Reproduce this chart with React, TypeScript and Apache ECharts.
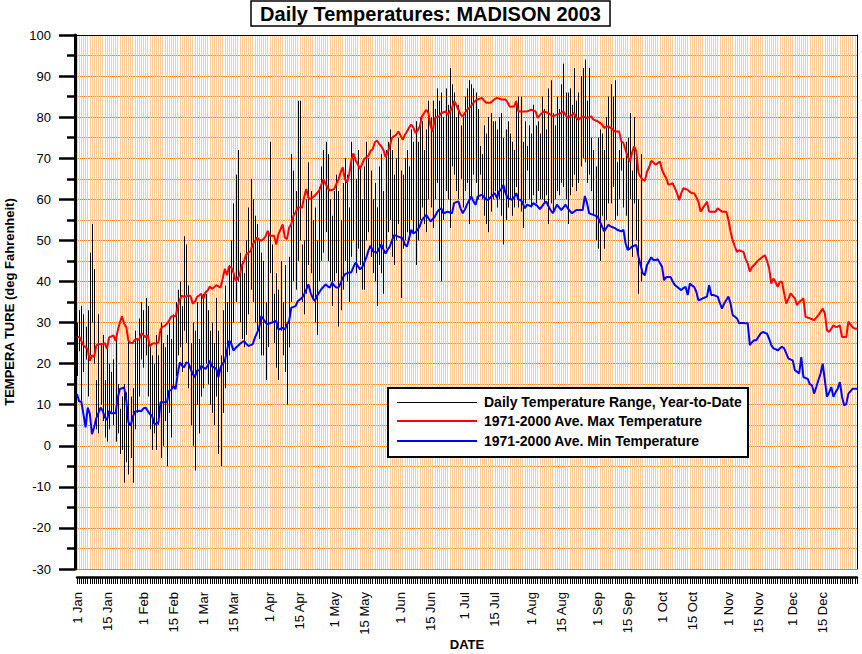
import React, { useEffect, useRef } from 'react';
import * as echarts from 'echarts';

const MONTHS = ['Jan', 'Feb', 'Mar', 'Apr', 'May', 'Jun', 'Jul', 'Aug', 'Sep', 'Oct', 'Nov', 'Dec'];
const MONTH_DAYS = [31, 28, 31, 30, 31, 30, 31, 31, 30, 31, 30, 31];
const LABEL_DAYS = [1, 15];
const DATES: string[] = MONTHS.flatMap((m, i) =>
  Array.from({ length: MONTH_DAYS[i] }, (_, k) => `${k + 1} ${m}`)
);

const TITLE = 'Daily Temperatures: MADISON 2003';
const Y_NAME = 'TEMPERA TURE (deg Fahrenheit)';
const X_NAME = 'DATE';
const LEGEND_NAMES = [
  'Daily Temperature Range, Year-to-Date',
  '1971-2000 Ave. Max Temperature',
  '1971-2000 Ave. Min Temperature',
];

// Daily observed highs / lows, 1 Jan .. 21 Sep 2003 (deg F)
const DAILY_HIGH = [
  // Jan
  30, 33, 34, 32, 29, 33, 47, 54, 43, 16, 32, 25, 27, 16, 25, 20, 18, 21, 26, 15, 9, 12, 15, 13, 26, 12, 14, 28, 26, 31, 35,
  // Feb
  33, 36, 34, 24, 22, 20, 27, 22, 30, 25, 24, 27, 30, 26, 32, 35, 38, 40, 34, 51, 49, 39, 25, 30, 28, 35, 26, 37,
  // Mar
  37, 37, 33, 28, 30, 25, 36, 28, 22, 33, 39, 35, 44, 50, 59, 66, 72, 47, 45, 42, 50, 58, 65, 60, 56, 54, 50, 47, 45, 35, 52,
  // Apr
  74, 49, 37, 42, 38, 45, 35, 44, 30, 46, 71, 67, 62, 84, 84, 49, 50, 60, 69, 62, 55, 58, 50, 63, 68, 72, 74, 71, 60, 56,
  // May
  62, 66, 62, 55, 64, 70, 66, 58, 74, 70, 65, 72, 68, 60, 68, 74, 70, 67, 60, 64, 58, 68, 71, 62, 72, 74, 77, 72, 66, 70, 75,
  // Jun
  67, 66, 70, 72, 68, 77, 74, 79, 74, 80, 79, 72, 77, 84, 80, 84, 82, 87, 84, 86, 80, 87, 83, 92, 88, 86, 80, 83, 78, 80,
  // Jul
  85, 87, 89, 88, 87, 86, 82, 73, 71, 78, 76, 80, 81, 79, 79, 77, 80, 81, 75, 77, 79, 76, 74, 72, 84, 85, 85, 74, 79, 73, 78,
  // Aug
  76, 83, 78, 79, 76, 85, 82, 77, 87, 89, 81, 78, 85, 82, 88, 93, 86, 86, 87, 83, 92, 84, 86, 90, 92, 94, 84, 92, 75, 72, 68,
  // Sep
  75, 77, 76, 72, 80, 85, 88, 85, 89, 69, 72, 74, 70, 74, 75, 81, 67, 80, 72, 60, 71,
];

const DAILY_LOW = [
  // Jan
  17, 23, 11, 18, 21, 12, 22, 30, 20, 4, 3, 10, 6, 2, 1, 4, 8, 5, 1, 3, -2, -1, -9, -4, -7, -3, -9, 4, 8, 12, 21,
  // Feb
  19, 22, 12, 4, -1, 3, -1, 5, -3, 0, 6, -5, 8, 2, 14, 17, 22, 24, 18, 28, 25, 14, 5, 0, -6, 10, 3, 12,
  // Mar
  14, 20, 15, 10, 8, 5, 12, -2, -5, 8, 14, 18, 22, 25, 30, 35, 40, 30, 26, 24, 27, 32, 38, 35, 30, 28, 26, 22, 22, 16, 24,
  // Apr
  42, 30, 25, 19, 16, 28, 22, 18, 10, 24, 35, 40, 38, 45, 50, 35, 32, 37, 44, 42, 36, 30, 27, 40, 45, 47, 52, 45, 40, 34,
  // May
  40, 42, 29, 33, 38, 45, 40, 35, 46, 50, 42, 48, 44, 38, 38, 50, 52, 46, 42, 40, 34, 44, 42, 37, 48, 52, 55, 46, 44, 50, 54,
  // Jun
  36, 48, 50, 52, 50, 55, 52, 44, 50, 55, 58, 54, 52, 60, 58, 53, 60, 64, 45, 40, 55, 62, 60, 53, 68, 66, 62, 60, 65, 58,
  // Jul
  62, 64, 54, 60, 66, 64, 60, 66, 60, 56, 54, 52, 57, 60, 62, 58, 60, 56, 49, 55, 58, 60, 56, 58, 63, 58, 57, 53, 59, 67, 60,
  // Aug
  58, 61, 59, 62, 60, 60, 59, 61, 54, 59, 57, 60, 62, 61, 64, 63, 60, 54, 61, 63, 66, 62, 64, 68, 70, 69, 64, 66, 62, 56, 50,
  // Sep
  48, 45, 56, 48, 55, 59, 59, 63, 55, 56, 60, 67, 58, 56, 48, 60, 46, 59, 50, 37, 40,
];

// 1971-2000 normal daily maximum (deg F), 1 Jan .. 31 Dec
const NORMAL_MAX = [
  26.3, 26.6, 25.5, 24.5, 24.0, 23.5, 20.7, 22.0, 21.6, 24.4,
  24.8, 24.7, 24.8, 25.0, 23.6, 26.4, 26.6, 26.9, 25.5, 28.0,
  30.0, 31.5, 29.7, 28.9, 25.6, 25.0, 25.0, 25.8, 26.0, 25.8,
  27.4, 26.9, 26.4, 26.9, 24.2, 24.8, 25.0, 24.8, 25.2, 28.4,
  29.0, 29.2, 29.7, 30.5, 31.5, 31.6, 31.5, 33.8, 35.6, 36.6,
  36.2, 36.4, 36.6, 36.4, 34.6, 35.0, 36.2, 36.6, 37.0, 35.8,
  37.4, 37.8, 38.8, 38.2, 38.6, 39.1, 38.8, 38.5, 40.7, 43.1,
  41.5, 43.7, 43.4, 42.2, 40.1, 40.8, 41.7, 44.0, 45.0, 46.6,
  47.0, 47.4, 49.0, 49.8, 50.7, 50.2, 49.9, 50.3, 51.0, 52.3,
  51.1, 51.1, 51.1, 49.0, 51.5, 52.7, 53.9, 50.7, 50.3, 53.1,
  53.9, 56.0, 56.8, 58.0, 58.0, 58.0, 60.5, 62.5, 60.4, 60.0,
  60.5, 60.9, 61.5, 62.1, 63.5, 64.9, 63.7, 62.8, 62.1, 62.3,
  62.5, 63.7, 64.8, 66.5, 67.8, 64.9, 64.1, 66.0, 69.4, 71.2,
  69.5, 68.6, 67.4, 68.5, 69.8, 70.2, 70.6, 71.8, 72.2, 73.9,
  74.3, 73.5, 72.9, 72.0, 70.3, 71.5, 73.0, 75.0, 75.4, 75.7,
  76.5, 75.5, 74.5, 75.7, 76.5, 77.5, 78.2, 77.4, 76.1, 76.8,
  77.8, 80.2, 81.0, 81.8, 81.0, 77.8, 76.5, 79.8, 80.0, 80.2,
  81.0, 81.2, 81.4, 80.6, 81.4, 82.2, 83.9, 83.0, 81.8, 80.6,
  80.2, 81.0, 81.8, 82.2, 82.8, 83.5, 84.0, 84.3, 84.5, 84.7,
  84.0, 83.5, 83.5, 83.5, 84.0, 84.4, 84.7, 84.5, 84.3, 84.3,
  84.3, 83.5, 82.5, 82.6, 82.6, 83.9, 81.4, 81.4, 81.4, 81.4,
  81.4, 81.6, 81.8, 81.6, 81.4, 79.8, 80.5, 81.0, 81.4, 81.2,
  81.0, 80.6, 80.2, 80.4, 80.6, 80.8, 81.0, 81.4, 80.5, 79.8,
  80.2, 80.6, 81.0, 79.8, 79.4, 79.8, 80.2, 80.0, 79.8, 80.0,
  80.2, 79.4, 79.2, 79.0, 78.6, 78.2, 77.4, 77.6, 77.8, 77.4,
  77.0, 76.5, 76.5, 76.5, 74.1, 73.7, 72.0, 70.4, 69.2, 71.3,
  72.9, 71.7, 66.5, 65.4, 64.8, 64.5, 66.7, 67.8, 69.4, 69.0,
  68.4, 68.8, 69.2, 67.2, 66.0, 65.1, 63.5, 63.7, 63.9, 62.7,
  61.5, 59.8, 61.5, 62.7, 62.5, 62.3, 61.8, 61.5, 61.5, 60.5,
  59.4, 57.0, 57.8, 58.6, 59.4, 57.0, 57.0, 57.0, 57.0, 57.8,
  57.4, 57.0, 57.0, 57.0, 55.0, 52.1, 50.0, 48.5, 47.2, 47.6,
  47.4, 47.2, 45.5, 44.4, 42.4, 43.5, 44.0, 44.6, 45.2, 45.6,
  46.0, 46.4, 45.0, 43.2, 39.5, 40.7, 39.8, 38.7, 39.9, 39.9,
  37.1, 34.6, 35.8, 37.1, 36.5, 35.9, 34.2, 35.0, 35.4, 35.9,
  31.4, 31.2, 31.0, 30.8, 30.6, 31.2, 31.8, 32.6, 33.4, 32.2,
  28.1, 27.7, 28.5, 29.3, 28.9, 29.0, 29.3, 26.5, 26.5, 26.5,
  30.2, 29.5, 28.8, 28.5, 28.5,
];

// 1971-2000 normal daily minimum (deg F), 1 Jan .. 31 Dec
const NORMAL_MIN = [
  12.6, 10.8, 10.8, 7.7, 4.5, 9.3, 7.7, 2.8, 4.5, 6.7,
  8.0, 9.3, 8.5, 6.9, 6.3, 8.5, 7.9, 7.9, 7.9, 11.6,
  13.8, 14.0, 14.2, 11.0, 5.7, 4.9, 6.9, 8.3, 8.4, 8.5,
  8.4, 9.1, 9.3, 8.5, 7.7, 7.3, 5.4, 5.3, 5.7, 10.6,
  10.6, 10.6, 10.6, 13.4, 13.6, 14.6, 13.8, 17.5, 20.3, 19.5,
  19.1, 20.3, 20.1, 18.7, 17.5, 16.7, 18.3, 18.3, 19.5, 19.0,
  18.7, 19.5, 20.7, 19.3, 19.0, 18.7, 16.7, 19.1, 20.0, 20.7,
  23.2, 25.6, 24.8, 23.2, 23.8, 24.3, 24.8, 25.2, 25.5, 24.8,
  24.3, 24.5, 24.7, 26.3, 27.5, 28.7, 31.6, 30.8, 30.0, 29.6,
  29.8, 30.0, 30.2, 30.4, 28.3, 28.5, 28.7, 28.3, 29.5, 30.4,
  33.6, 33.8, 34.0, 35.2, 35.6, 36.0, 36.9, 38.0, 39.3, 37.3,
  36.0, 35.2, 36.5, 37.3, 38.1, 38.7, 39.3, 38.8, 38.5, 39.7,
  39.0, 38.5, 38.5, 39.5, 40.9, 41.7, 42.0, 42.2, 42.2, 43.5,
  44.6, 43.8, 43.0, 43.4, 44.5, 45.8, 47.5, 48.7, 47.4, 47.2,
  47.0, 48.0, 49.0, 47.8, 46.8, 47.8, 48.5, 50.0, 51.3, 51.1,
  50.9, 50.7, 50.5, 49.0, 48.5, 50.5, 52.6, 51.7, 52.0, 52.6,
  53.5, 55.0, 55.6, 56.2, 55.4, 54.6, 55.2, 55.8, 56.8, 57.5,
  57.8, 56.6, 56.8, 57.0, 56.8, 56.6, 59.1, 59.3, 59.5, 57.8,
  56.6, 57.5, 58.7, 59.7, 60.7, 59.5, 58.7, 60.7, 60.9, 61.1,
  60.5, 59.9, 59.9, 60.5, 61.0, 61.5, 60.3, 61.9, 62.5, 63.5,
  61.5, 60.3, 60.1, 59.9, 60.5, 61.5, 59.9, 59.9, 59.1, 57.8,
  58.7, 58.5, 58.3, 59.1, 58.7, 58.3, 57.6, 58.3, 59.0, 59.5,
  58.3, 57.4, 56.6, 57.6, 58.7, 58.0, 57.4, 58.0, 58.7, 57.8,
  57.2, 56.6, 57.0, 57.4, 57.4, 57.4, 57.4, 60.8, 59.1, 56.6,
  56.4, 56.2, 56.0, 55.8, 54.6, 53.4, 52.2, 53.0, 53.8, 53.4,
  53.2, 53.0, 52.6, 52.4, 52.2, 52.6, 49.3, 47.7, 48.0, 48.5,
  48.7, 48.9, 46.1, 44.0, 42.0, 41.5, 44.0, 45.0, 45.9, 45.2,
  45.2, 45.4, 44.5, 43.6, 40.3, 41.1, 41.1, 41.1, 40.0, 39.1,
  38.7, 38.3, 37.9, 38.4, 38.7, 36.7, 39.5, 39.0, 38.7, 37.5,
  35.4, 35.6, 35.9, 36.1, 36.3, 39.1, 36.7, 36.7, 36.5, 36.3,
  34.8, 33.4, 34.6, 35.5, 36.3, 34.6, 31.8, 31.4, 31.0, 29.8,
  29.9, 29.9, 29.8, 29.8, 24.5, 25.2, 25.7, 25.7, 26.5, 27.3,
  27.7, 27.5, 27.3, 26.0, 24.5, 23.7, 23.5, 23.2, 23.7, 24.1,
  23.7, 22.5, 21.2, 21.0, 20.8, 18.4, 18.0, 17.6, 21.6, 16.7,
  16.5, 16.3, 15.0, 14.7, 12.7, 14.3, 16.0, 17.6, 20.0, 15.9,
  11.9, 13.0, 14.3, 11.9, 13.0, 13.9, 15.5, 12.0, 9.8, 10.2,
  12.7, 13.3, 13.9, 13.9, 13.9,
];

const Y_MIN = -30;
const Y_MAX = 100;
const Y_STEP = 10;

const FONT = '"Liberation Sans", Arial, Helvetica, sans-serif';

function buildOption() {
  const rangeData = DAILY_HIGH.map((h, i) => [i, DAILY_LOW[i], h]);
  return {
    animation: false,
    backgroundColor: '#ffffff',
    textStyle: { fontFamily: FONT },
    grid: { left: 77, right: 5, top: 35, bottom: 85, containLabel: false, outerBoundsMode: 'none' },
    xAxis: [
      {
        type: 'category',
        data: DATES,
        boundaryGap: false,
        offset: 8,
        axisLine: { show: true, onZero: false, lineStyle: { color: '#000', width: 2.5 } },
        axisTick: { show: true, interval: 0, length: 7, lineStyle: { color: '#000', width: 1 } },
        axisLabel: {
          interval: (_i: number, v: string) => LABEL_DAYS.includes(parseInt(v, 10)),
          rotate: 90,
          margin: 15,
          fontSize: 13,
          color: '#000',
          fontFamily: FONT,
        },
        splitLine: { show: true, interval: 0, lineStyle: { color: '#ffcc99', width: 1 } },
        name: X_NAME,
        nameLocation: 'middle',
        nameGap: 61,
        nameMoveOverlap: false,
        nameTextStyle: { fontWeight: 'bold', fontSize: 13, color: '#000', fontFamily: FONT },
      },
      {
        type: 'category',
        data: DATES,
        boundaryGap: false,
        position: 'top',
        axisLine: { show: true, onZero: false, lineStyle: { color: '#000', width: 1 } },
        axisTick: { show: false },
        axisLabel: { show: false },
        splitLine: { show: false },
      },
    ],
    yAxis: [
      {
        type: 'value',
        min: Y_MIN,
        max: Y_MAX,
        interval: Y_STEP,
        offset: 2,
        axisLine: { show: true, onZero: false, lineStyle: { color: '#000', width: 3 } },
        axisTick: { show: true, length: 16, lineStyle: { color: '#000', width: 2.5 } },
        minorTick: { show: true, splitNumber: 2, length: 8, lineStyle: { color: '#000', width: 2.5 } },
        splitLine: { show: true, lineStyle: { color: '#ff8000', width: 1 } },
        minorSplitLine: { show: true, lineStyle: { color: '#ff9020', width: 1 } },
        axisLabel: { fontSize: 13, color: '#000', margin: 24, fontFamily: FONT },
        name: Y_NAME,
        nameLocation: 'middle',
        nameGap: 59,
        nameMoveOverlap: false,
        nameTextStyle: { fontWeight: 'bold', fontSize: 13, color: '#000', fontFamily: FONT },
      },
      {
        type: 'value',
        min: Y_MIN,
        max: Y_MAX,
        interval: Y_STEP,
        position: 'right',
        axisLine: { show: true, onZero: false, lineStyle: { color: '#000', width: 1 } },
        axisTick: { show: false },
        axisLabel: { show: false },
        splitLine: { show: false },
      },
    ],
    series: [
      {
        name: LEGEND_NAMES[0],
        type: 'custom',
        data: rangeData,
        encode: { x: 0, y: [1, 2] },
        z: 2,
        renderItem: (_params: any, api: any) => {
          const i = api.value(0);
          const p1 = api.coord([i, api.value(1)]);
          const p2 = api.coord([i, api.value(2)]);
          const x = Math.round(p1[0]) + 0.5;
          return {
            type: 'line',
            shape: { x1: x, y1: p1[1], x2: x, y2: p2[1] },
            style: { stroke: '#000', lineWidth: 1 },
          };
        },
      },
      {
        name: LEGEND_NAMES[1],
        type: 'line',
        data: NORMAL_MAX,
        symbol: 'none',
        z: 3,
        lineStyle: { color: '#ff0000', width: 2 },
        itemStyle: { color: '#ff0000' },
      },
      {
        name: LEGEND_NAMES[2],
        type: 'line',
        data: NORMAL_MIN,
        symbol: 'none',
        z: 3,
        lineStyle: { color: '#0000ff', width: 2 },
        itemStyle: { color: '#0000ff' },
      },
    ],
    graphic: [
      {
        type: 'rect',
        z: 100,
        shape: { x: 251, y: 1, width: 359, height: 25 },
        style: { fill: '#fff', stroke: '#000', lineWidth: 1.5 },
      },
      {
        type: 'text',
        z: 101,
        x: 430.5,
        y: 14,
        style: {
          text: TITLE,
          fill: '#000',
          font: `bold 20px ${FONT}`,
          align: 'center',
          verticalAlign: 'middle',
        },
      },
      {
        type: 'rect',
        z: 100,
        shape: { x: 388, y: 388, width: 360, height: 69 },
        style: { fill: '#fff', stroke: '#000', lineWidth: 2 },
      },
      {
        type: 'line',
        z: 101,
        shape: { x1: 397, y1: 402.5, x2: 477, y2: 402.5 },
        style: { stroke: '#000', lineWidth: 1 },
      },
      {
        type: 'line',
        z: 101,
        shape: { x1: 397, y1: 421, x2: 477, y2: 421 },
        style: { stroke: '#ff0000', lineWidth: 2 },
      },
      {
        type: 'line',
        z: 101,
        shape: { x1: 397, y1: 441, x2: 477, y2: 441 },
        style: { stroke: '#0000ff', lineWidth: 2 },
      },
      ...LEGEND_NAMES.map((t, k) => ({
        type: 'text',
        z: 101,
        x: 484,
        y: [402, 421, 441][k],
        style: {
          text: t,
          fill: '#000',
          font: `bold 14px ${FONT}`,
          align: 'left',
          verticalAlign: 'middle',
        },
      })),
    ],
  };
}

export default function App() {
  const ref = useRef<HTMLDivElement>(null);
  useEffect(() => {
    document.body.style.margin = '0';
    if (!ref.current) return;
    const chart = echarts.init(ref.current, null, { renderer: 'svg' });
    chart.setOption(buildOption() as any);
    return () => {
      chart.dispose();
    };
  }, []);
  return <div ref={ref} style={{ width: 862, height: 654 }} />;
}
